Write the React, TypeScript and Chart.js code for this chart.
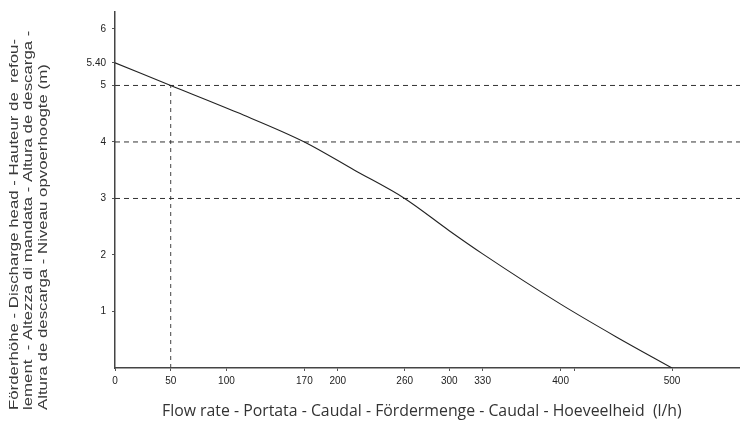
import React, { useEffect, useRef } from "react";
import { Chart, registerables } from "chart.js";

Chart.register(...registerables);

// Pump curve: flow rate (l/h) vs discharge head (m)
const flowRates = [0, 50, 110, 170, 215, 260, 300, 330, 400, 450, 500];
const heads = [5.4, 5.0, 4.52, 4.0, 3.5, 3.0, 2.43, 2.02, 1.13, 0.55, 0];

// Tick labels
const xTickValues = [0, 50, 100, 170, 200, 260, 300, 330, 400, 412, 500];
const xTickLabels = ["0", "50", "100", "170", "200", "260", "300", "330", "400", "", "500"];
const yTickValues = [1, 2, 3, 4, 5, 5.4, 6];
const yTickLabels = ["1", "2", "3", "4", "5", "5.40", "6"];

// Reference lines
const gridHeads = [3, 4, 5];
const markFlow = 50;
const markHead = 5;

const xMax = 561;
const yMax = 6.3;

const xTitle = "Flow rate - Portata - Caudal - Fördermenge - Caudal - Hoeveelheid  (l/h)";
const yTitleLines = [
  "Förderhöhe - Discharge head - Hauteur de  refou-",
  "lement  - Altezza di mandata - Altura de descarga -",
  "Altura de descarga - Niveau opvoerhoogte (m)",
];

function fitFont(ctx: CanvasRenderingContext2D, text: string, family: string, target: number) {
  ctx.font = `20px ${family}`;
  const w = ctx.measureText(text).width;
  return (20 * target) / w;
}

const titlesPlugin = {
  id: "titles",
  afterDraw(chart: any) {
    const ctx = chart.ctx as CanvasRenderingContext2D;
    ctx.save();
    ctx.fillStyle = "#333";
    const xs = fitFont(ctx, xTitle, '"Open Sans"', 520);
    ctx.font = `${xs}px "Open Sans"`;
    ctx.textAlign = "left";
    ctx.textBaseline = "middle";
    ctx.fillText(xTitle, 162, 411);
    ctx.fillStyle = "#3a3a3a";
    ctx.font = '13px "Liberation Sans"';
    const w0 = ctx.measureText(yTitleLines[0]).width;
    const stretch = 371 / w0;
    ctx.textAlign = "left";
    const cols = [14, 28.5, 43];
    yTitleLines.forEach((line, i) => {
      ctx.save();
      ctx.translate(cols[i], 410);
      ctx.rotate(-Math.PI / 2);
      ctx.scale(stretch, 1);
      ctx.fillText(line, 0, 0);
      ctx.restore();
    });
    ctx.restore();
  },
};

export default function App() {
  const ref = useRef<HTMLCanvasElement | null>(null);
  useEffect(() => {
    if (!ref.current) return;
    const datasets: any[] = [];
    datasets.push({
      data: flowRates.map((x, i) => ({ x, y: heads[i] })),
      borderColor: "#222",
      borderWidth: 1.1,
      pointRadius: 0,
      cubicInterpolationMode: "monotone",
      order: 0,
    });
    gridHeads.forEach((h) => {
      datasets.push({
        data: [
          { x: 0, y: h },
          { x: xMax, y: h },
        ],
        borderColor: "#333",
        borderWidth: 1,
        borderDash: [5, 4],
        pointRadius: 0,
        order: 1,
      });
    });
    datasets.push({
      data: [
        { x: markFlow, y: 0 },
        { x: markFlow, y: markHead },
      ],
      borderColor: "#444",
      borderWidth: 1,
      borderDash: [4, 4],
      pointRadius: 0,
      order: 1,
    });

    const chart = new Chart(ref.current, {
      type: "line",
      data: { datasets },
      plugins: [titlesPlugin],
      options: {
        animation: false,
        responsive: false,
        layout: { padding: { top: 8, left: 0, right: 0, bottom: 0 } },
        plugins: { legend: { display: false }, tooltip: { enabled: false } },
        scales: {
          x: {
            type: "linear",
            min: 0,
            max: xMax,
            afterFit: (s: any) => {
              s.height = 56;
            },
            afterBuildTicks: (s: any) => {
              s.ticks = xTickValues.map((v) => ({ value: v }));
            },
            border: { display: true, color: "#444", width: 1.5 },
            grid: { display: true, drawOnChartArea: false, drawTicks: true, tickLength: 3, color: "#555" },
            ticks: {
              autoSkip: false,
              maxRotation: 0,
              padding: 4,
              color: "#222",
              font: { family: "Liberation Sans", size: 10 },
              callback: (v: any) => {
                const i = xTickValues.indexOf(Number(v));
                return i >= 0 ? xTickLabels[i] : "";
              },
            },
          },
          y: {
            type: "linear",
            min: 0,
            max: yMax,
            afterFit: (s: any) => {
              s.width = 115;
            },
            afterBuildTicks: (s: any) => {
              s.ticks = yTickValues.map((v) => ({ value: v }));
            },
            border: { display: true, color: "#444", width: 1.5 },
            grid: { display: true, drawOnChartArea: false, drawTicks: true, tickLength: 3, color: "#555" },
            ticks: {
              autoSkip: false,
              padding: 6,
              color: "#222",
              font: { family: "Liberation Sans", size: 10 },
              callback: (v: any) => {
                const i = yTickValues.indexOf(Number(v));
                return i >= 0 ? yTickLabels[i] : "";
              },
            },
          },
        },
      },
    });
    return () => chart.destroy();
  }, []);

  return (
    <div style={{ position: "absolute", left: 0, top: 0, width: 740, height: 424, background: "#fff" }}>
      <canvas ref={ref} width={740} height={424} style={{ display: "block" }} />
    </div>
  );
}
